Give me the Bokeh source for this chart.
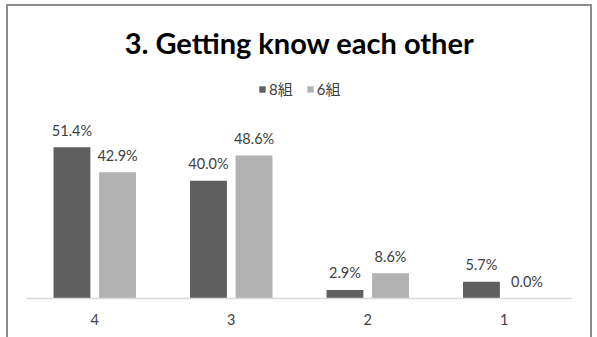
from bokeh.plotting import figure
from bokeh.models import (ColumnDataSource, Range1d, LabelSet, Legend, LegendItem,
                          Title, InlineStyleSheet)
from bokeh.core.properties import value
from bokeh.transform import dodge
from bokeh.embed import file_html
from bokeh.resources import INLINE

# ---- data ----
categories = ["4", "3", "2", "1"]
series_names = ["8組", "6組"]
class8 = [51.4, 40.0, 2.9, 5.7]
class6 = [42.9, 48.6, 8.6, 0.0]
title_text = "3. Getting know each other"

FONT = "Lato, 'Noto Sans CJK JP', sans-serif"
DARK = "#5f5f5f"
LIGHT = "#b2b2b2"

src = ColumnDataSource(data=dict(
    cat=categories,
    v8=class8,
    v6=class6,
    l8=[f"{v:.1f}%" for v in class8],
    l6=[f"{v:.1f}%" for v in class6],
))

p = figure(width=597, height=337, x_range=categories, y_range=Range1d(0, 80.2),
           output_backend="svg", toolbar_location=None,
           min_border_left=26, min_border_right=25, min_border_top=62,
           min_border_bottom=39, background_fill_color="white",
           border_fill_color="white")
p.outline_line_color = None
p.xgrid.grid_line_color = None
p.ygrid.grid_line_color = None
p.yaxis.visible = False
p.x_range.range_padding = 0

t = Title(text=title_text, text_font=FONT, text_font_size="29px",
          text_font_style="bold", text_color="black", align="center",
          standoff=6)
p.add_layout(t, "above")

W = 0.27
OFF = 0.167
r8 = p.vbar(x=dodge("cat", -OFF, range=p.x_range), top="v8", width=W, source=src,
            fill_color=DARK, line_color=None)
r6 = p.vbar(x=dodge("cat", OFF, range=p.x_range), top="v6", width=W, source=src,
            fill_color=LIGHT, line_color=None)

for col, lab, off in (("v8", "l8", -OFF), ("v6", "l6", OFF)):
    p.add_layout(LabelSet(x=dodge("cat", off, range=p.x_range), y=col, text=lab,
                          source=src, text_align="center", text_baseline="middle",
                          y_offset=17, text_font=value(FONT),
                          text_font_size=value("14.5px"), text_color="#404040"))

xa = p.xaxis[0]
xa.axis_line_color = "#d9d9d9"
xa.axis_line_width = 1.5
xa.major_tick_line_color = None
xa.minor_tick_line_color = None
xa.major_label_text_font = FONT
xa.major_label_text_font_size = "14.5px"
xa.major_label_text_color = "#404040"
xa.major_label_standoff = 9

legend = Legend(items=[LegendItem(label=series_names[0], renderers=[r8]),
                       LegendItem(label=series_names[1], renderers=[r6])],
                orientation="horizontal", location=(232, 199),
                glyph_width=8, glyph_height=8, label_text_font=FONT,
                label_text_font_size="15px", label_text_color="#404040",
                spacing=13, label_standoff=3, padding=0, margin=0,
                border_line_color=None, background_fill_alpha=0)
p.add_layout(legend, "center")

# chart-area frame drawn around the whole chart (like the spreadsheet chart border)
p.stylesheets = [InlineStyleSheet(css=(
    ":host{position:relative;}"
    ":host::after{content:'';position:absolute;left:6px;top:4px;width:586px;"
    "height:400px;border:2px solid #8c8c8c;box-sizing:border-box;"
    "pointer-events:none;}"
))]

open("out.html", "w").write(file_html(p, INLINE))
